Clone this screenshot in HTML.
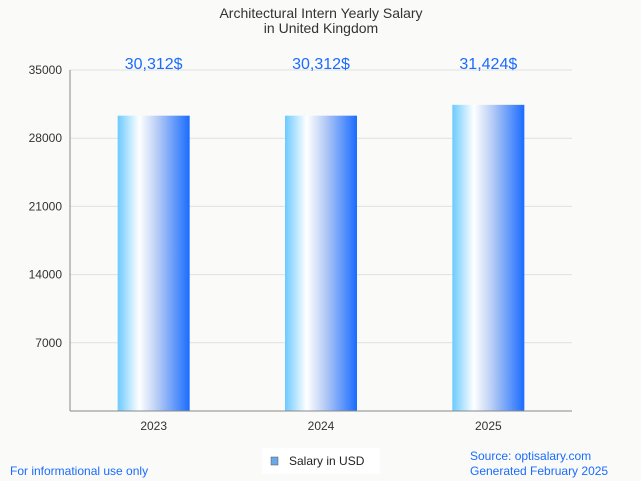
<!DOCTYPE html>
<html><head><meta charset="utf-8"><style>
body{margin:0;background:#fafaf8;}
svg{display:block;font-family:"Liberation Sans",sans-serif;}
</style></head><body>
<svg id="c" width="641" height="481" viewBox="0 0 641 481">
<defs>
<linearGradient id="g" x1="0" x2="1" y1="0" y2="0">
<stop offset="0" stop-color="#6ccaff"/><stop offset="0.3" stop-color="#ffffff"/><stop offset="0.55" stop-color="#b8cdf5"/><stop offset="1" stop-color="#1a6cff"/>
</linearGradient>
</defs>
<rect width="641" height="481" fill="#fafaf8"/>
<text x="321" y="18" text-anchor="middle" font-size="14" fill="#333">Architectural Intern Yearly Salary</text>
<text x="321" y="33" text-anchor="middle" font-size="14" fill="#333">in United Kingdom</text>
<g id="grid"></g><g id="bars"></g>
<line x1="70" y1="411" x2="572" y2="411" stroke="#888"/>
<line x1="70" y1="70" x2="70" y2="411" stroke="#888"/>
<rect x="262" y="448" width="118" height="26" fill="#fff"/>
<rect x="271" y="457" width="7" height="8" fill="#6aa8e8" stroke="#555" stroke-width="0.5"/>
<text x="289" y="465" font-size="12" fill="#222">Salary in USD</text>
<text x="10" y="475" font-size="12" fill="#1a6cff">For informational use only</text>
<text x="470" y="460" font-size="12" fill="#1a6cff">Source: optisalary.com</text>
<text x="470" y="475" font-size="12" fill="#1a6cff">Generated February 2025</text>
</svg>
<script>
const categories=["2023","2024","2025"];
const values=[30312,30312,31424];
const labels=["30,312$","30,312$","31,424$"];
const ticks=[7000,14000,21000,28000,35000];
const x0=70,x1=572,y0=411,y1=70,max=35000;
const ns="http://www.w3.org/2000/svg";
const yS=v=>y0-(v/max)*(y0-y1);
const band=(x1-x0)/categories.length;
const xS=i=>x0+band*(i+0.5);
function mk(t,a,p){const e=document.createElementNS(ns,t);for(const k in a)e.setAttribute(k,a[k]);p.appendChild(e);return e;}
const grid=document.getElementById('grid'),bars=document.getElementById('bars');
ticks.forEach(t=>{
 const l=mk('line',{x1:x0,x2:x1,y1:yS(t),y2:yS(t),stroke:'#e0e0e0'},grid);
 
 
 const tx=mk('text',{x:x0-8,y:yS(t)+4,'text-anchor':'end','font-size':12,fill:'#333'},grid);
 tx.textContent=t;
 
 
});
categories.forEach((c,i)=>{
 const w=72,cx=xS(i);
 const r=mk('rect',{x:cx-w/2,y:yS(values[i]),width:w,height:y0-yS(values[i]),fill:'url(#g)'},bars);
 
 
 const v=mk('text',{x:cx,y:69,'text-anchor':'middle','font-size':16,fill:'#1a6cff'},bars);
 v.textContent=labels[i];
 
 
 const xl=mk('text',{x:cx,y:430,'text-anchor':'middle','font-size':12,fill:'#333'},bars);
 xl.textContent=c;
 
 
});
</script>
</body></html>
